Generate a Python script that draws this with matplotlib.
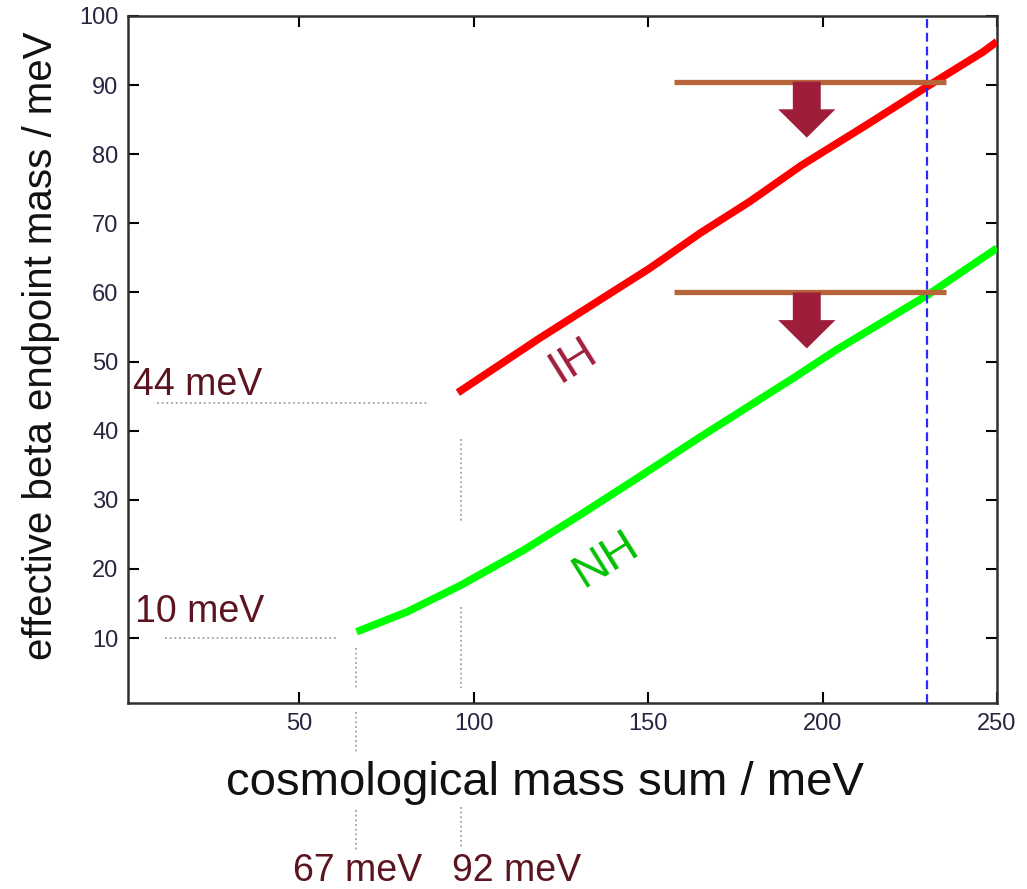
import matplotlib
matplotlib.use('Agg')
import matplotlib.pyplot as plt

plt.rcParams['font.family'] = ['Liberation Sans', 'DejaVu Sans']

# ---- data ----
ih_x = [95.5, 119, 150.5, 165, 179, 194, 212.5, 230, 246, 250]
ih_y = [45.5, 53.4, 63.5, 68.6, 73.1, 78.4, 84.2, 89.8, 94.8, 96.3]

nh_x = [66.5, 81, 96.6, 114.3, 130.5, 146.8, 165, 191.6, 204, 230, 250]
nh_y = [10.9, 13.8, 17.7, 22.7, 27.8, 33.1, 39.1, 47.6, 51.7, 59.6, 66.4]

limit_y = [90.5, 60]          # sensitivity bars
limit_x = [157.4, 235.4]
arrow_x = 195.5
cosmo_limit = 230             # blue dashed line

# guide lines (dotted grey)
hguide_y = [44, 10]
hguide_x0 = [9.3, 11.6]
hguide_x1 = [86.7, 61.2]
vguide_x = [66.3, 96.4]
vguide_segs = [[(8.6, 2.8), (-0.7, -6.5), (-14.9, -20.7)],
               [(38.8, 26.9), (14.5, 2.8), (-14.5, -20.2)]]

xticks = [50, 100, 150, 200, 250]
yticks = [10, 20, 30, 40, 50, 60, 70, 80, 90, 100]

#####################################
fig = plt.figure(figsize=(10.27, 8.89), dpi=100)
ax = fig.add_axes([128/1027, 1-703/889, 869/1027, 687/889])
ax.set_xlim(1, 250)
ax.set_ylim(0.6, 100)
ax.set_xticks(xticks)
ax.set_yticks(yticks)
ax.tick_params(direction='in', length=8, width=1.5, top=True, right=True,
               labelsize=17, labelcolor='#262640', pad=7)
for s in ax.spines.values():
    s.set_linewidth(1.8)
    s.set_color('#303030')

# curves
ax.plot(ih_x, ih_y, color='#ff0000', lw=5.5, solid_capstyle='butt', zorder=3)
ax.plot(nh_x, nh_y, color='#00ff00', lw=5.5, solid_capstyle='butt', zorder=3)

# cosmology limit
ax.axvline(cosmo_limit, color='#2a2aff', lw=1.6, ls=(0, (4, 2.2)), zorder=4)

# sensitivity bars + arrows
for ly in limit_y:
    ax.plot(limit_x, [ly, ly], color='#b8643a', lw=3.8, solid_capstyle='butt', zorder=5)
    ax.arrow(arrow_x, ly, 0, -8.1, width=8, head_width=16.4, head_length=4.1,
             length_includes_head=True, color='#9e1e3a', lw=0, zorder=6)

# dotted guides
gstyle = dict(color='#a0a0a8', lw=1.3, ls=(0, (1, 1.6)), clip_on=False, zorder=2)
for gy, x0, x1 in zip(hguide_y, hguide_x0, hguide_x1):
    ax.plot([x0, x1], [gy, gy], **gstyle)
for gx, segs in zip(vguide_x, vguide_segs):
    for y0, y1 in segs:
        ax.plot([gx, gx], [y0, y1], **gstyle)

# annotations
ann = dict(color='#5c1420', fontsize=27, clip_on=False, va='baseline')
ax.text(2.4, 45.2, '44 meV', **ann)
ax.text(3.0, 12.3, '10 meV', **ann)
ax.text(48.3, -25.2, '67 meV', **ann)
ax.text(93.8, -25.2, '92 meV', **ann)

ax.text(128.5, 50.2, 'IH', color='#a01e3c', fontsize=34, rotation=32,
        ha='center', va='center')
ax.text(138, 21.3, 'NH', color='#00c000', fontsize=34, rotation=32,
        ha='center', va='center')

# axis labels
fig.text(41/1027, 1-346/889, 'effective beta endpoint mass / meV', rotation=90,
         fontsize=29, ha='center', va='center', color='#111111')
fig.text(545/1027, 1-795/889, 'cosmological mass sum / meV',
         fontsize=34, ha='center', va='baseline', color='#111111')

fig.savefig('out.png', dpi=100)
